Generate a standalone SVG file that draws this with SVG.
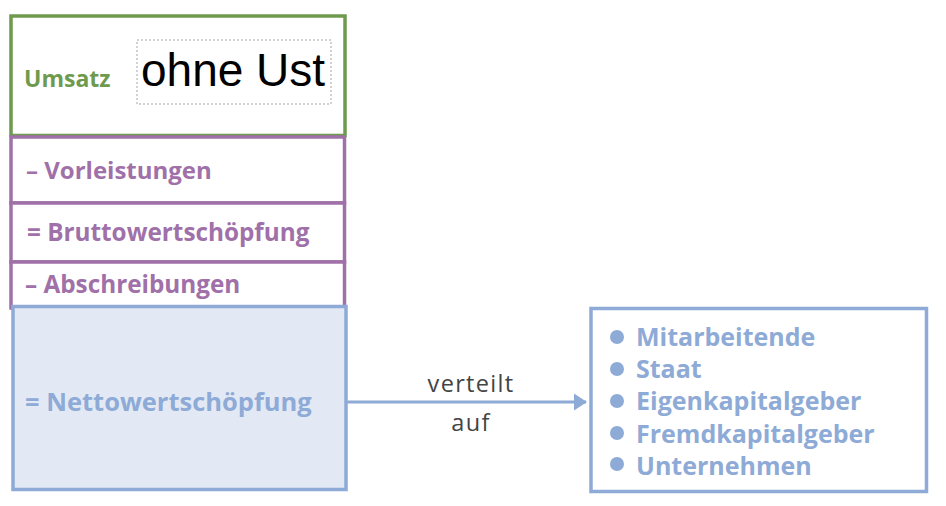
<svg xmlns="http://www.w3.org/2000/svg" width="946" height="506" viewBox="0 0 946 506">
<style>
.lbl{font-family:"Open Sans","DejaVu Sans",sans-serif;font-weight:700}
.g{fill:#6e9a4e}
.p{fill:#a070a8}
.b{fill:#8eaad6}
.box{fill:#ffffff;stroke-width:3.5}
.note{font-family:"Open Sans","DejaVu Sans",sans-serif;font-size:23.5px;fill:#444444;letter-spacing:1.3px}
</style>
<defs>
<marker id="arr" viewBox="0 0 13 17" refX="12" refY="8.5" markerWidth="4.4" markerHeight="5.7" orient="auto" markerUnits="strokeWidth">
<path d="M0,0 L13,8.5 L0,17 Z" fill="#8eaad6"/>
</marker>
</defs>
<rect width="946" height="506" fill="#ffffff"/>
<g id="umsatz">
<rect class="box" x="11" y="16" width="334" height="119.5" stroke="#6e9a4e"/>
<text class="lbl g" x="24" y="87" font-size="23">Umsatz</text>
<rect x="137" y="40" width="194" height="64" fill="none" stroke="#c4c4c4" stroke-width="1.5" stroke-dasharray="2,2"/>
<text x="141" y="86" font-family="Liberation Sans,Arial,sans-serif" font-size="46" fill="#000000">ohne Ust</text>
</g>
<g id="vorleistungen">
<rect class="box" x="11" y="137" width="333.5" height="66" stroke="#a070a8"/>
<text class="lbl p" x="26" y="179" font-size="24">– Vorleistungen</text>
</g>
<g id="brutto">
<rect class="box" x="11" y="203" width="333.5" height="59" stroke="#a070a8"/>
<text class="lbl p" x="27" y="241" font-size="24.3">= Bruttowertschöpfung</text>
</g>
<g id="abschreibungen">
<rect class="box" x="11" y="262" width="333.5" height="46" stroke="#a070a8"/>
<text class="lbl p" x="25" y="293" font-size="24.3">– Abschreibungen</text>
</g>
<g id="netto">
<rect x="13" y="306.5" width="333" height="183" fill="#e3e9f4" stroke="#8eaad6" stroke-width="3.5"/>
<text class="lbl b" x="25" y="411" font-size="25.5">= Nettowertschöpfung</text>
</g>
<g id="empfaenger">
<rect class="box" x="591" y="308.5" width="335.5" height="183" stroke="#8eaad6"/>
<g class="b">
<circle cx="617" cy="337" r="7"/>
<circle cx="617" cy="369" r="7"/>
<circle cx="617" cy="401" r="7"/>
<circle cx="617" cy="433" r="7"/>
<circle cx="617" cy="464" r="7"/>
</g>
<g class="lbl b" font-size="25">
<text x="636" y="346">Mitarbeitende</text>
<text x="636" y="378">Staat</text>
<text x="636" y="410">Eigenkapitalgeber</text>
<text x="636" y="443">Fremdkapitalgeber</text>
<text x="636" y="475">Unternehmen</text>
</g>
</g>
<g id="connectors">
<line x1="347" y1="402" x2="586" y2="402" stroke="#8eaad6" stroke-width="3" marker-end="url(#arr)"/>
<text class="note" x="471" y="391.5" text-anchor="middle">verteilt</text>
<text class="note" x="471" y="431" text-anchor="middle">auf</text>
</g>
</svg>
